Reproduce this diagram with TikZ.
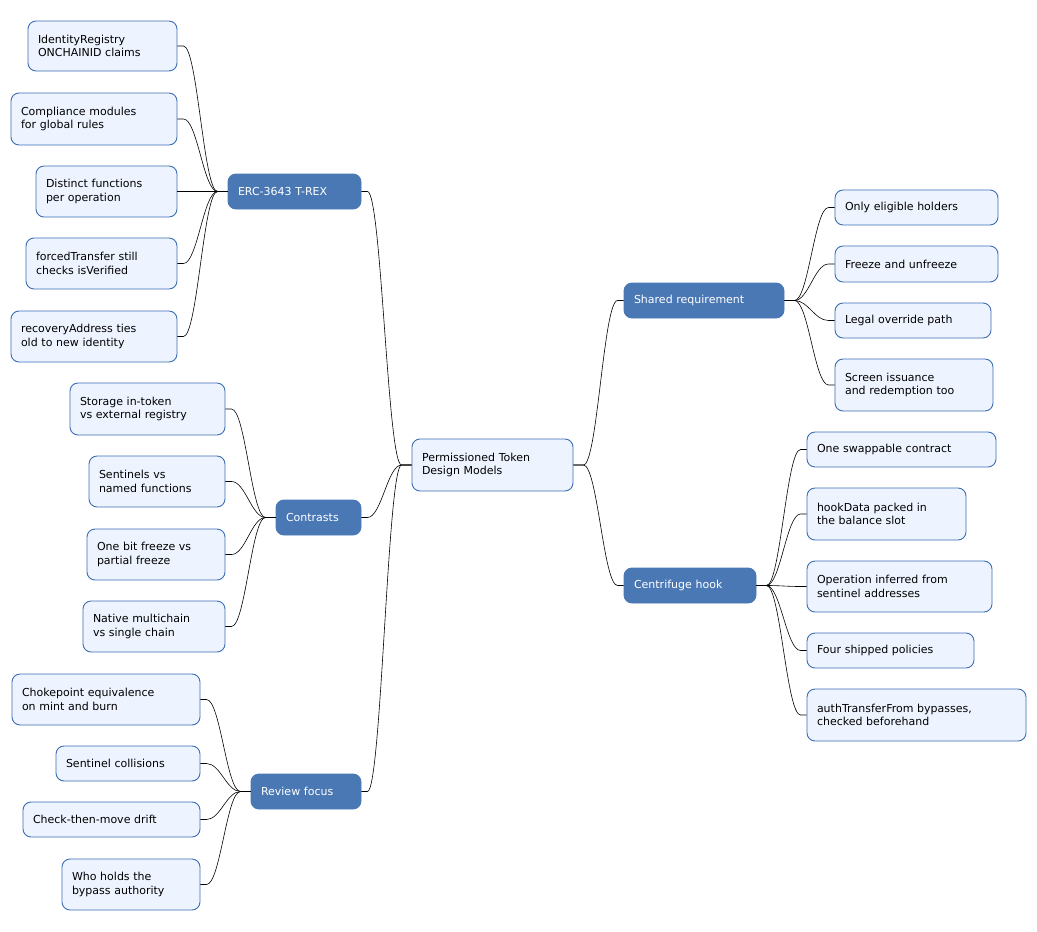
\documentclass[tikz,border=0pt]{standalone}
\usepackage{fontspec}
\setmainfont{DejaVu Sans}
\begin{document}
\begin{tikzpicture}[x=1pt,y=-1pt,
  box/.style={draw=blue!50!black!70!cyan!60, line width=0.9pt, rounded corners=8pt, font=\fontsize{11}{13.5}\selectfont, align=left, inner sep=0pt},
  leaf/.style={box, fill=lf, draw=bd, text=black},
  main/.style={box, fill=mn, draw=mn, text=white},
  con/.style={draw=black, line width=0.6pt}]
\definecolor{lf}{HTML}{EEF4FF}
\definecolor{bd}{HTML}{3C6EB4}
\definecolor{mn}{HTML}{4A78B4}
\useasboundingbox (0,0) rectangle (1037,932);
% \nd{style}{name}{l}{t}{r}{b}{text}
\newcommand\nd[7]{\node[#1, minimum width={#5-#3}, minimum height={#6-#4}, text width={#5-#3-20}] (#2) at ({(#3+#5)/2},{(#4+#6)/2}) {#7};}
\nd{leaf}{root}{412}{439}{573}{491}{Permissioned Token\\Design Models}
\nd{main}{sh}{624}{283}{784}{318}{Shared requirement}
\nd{main}{cf}{624}{568}{756}{603}{Centrifuge hook}
\nd{main}{erc}{228}{174}{361}{209}{ERC-3643 T-REX}
\nd{main}{ct}{276}{500}{361}{535}{Contrasts}
\nd{main}{rv}{251}{774}{361}{809}{Review focus}
\nd{leaf}{s1}{835}{190}{998}{225}{Only eligible holders}
\nd{leaf}{s2}{835}{246}{998}{282}{Freeze and unfreeze}
\nd{leaf}{s3}{835}{303}{991}{338}{Legal override path}
\nd{leaf}{s4}{835}{359}{993}{411}{Screen issuance\\and redemption too}
\nd{leaf}{c1}{807}{432}{996}{467}{One swappable contract}
\nd{leaf}{c2}{807}{488}{966}{540}{hookData packed in\\the balance slot}
\nd{leaf}{c3}{807}{561}{992}{612}{Operation inferred from\\sentinel addresses}
\nd{leaf}{c4}{807}{633}{974}{668}{Four shipped policies}
\nd{leaf}{c5}{807}{689}{1026}{741}{authTransferFrom bypasses,\\checked beforehand}
\nd{leaf}{e1}{28}{21}{177}{71}{IdentityRegistry\\ONCHAINID claims}
\nd{leaf}{e2}{11}{93}{177}{145}{Compliance modules\\for global rules}
\nd{leaf}{e3}{36}{166}{177}{217}{Distinct functions\\per operation}
\nd{leaf}{e4}{26}{238}{177}{289}{forcedTransfer still\\checks isVerified}
\nd{leaf}{e5}{11}{311}{177}{362}{recoveryAddress ties\\old to new identity}
\nd{leaf}{t1}{70}{383}{225}{435}{Storage in-token\\vs external registry}
\nd{leaf}{t2}{89}{456}{225}{507}{Sentinels vs\\named functions}
\nd{leaf}{t3}{87}{529}{225}{580}{One bit freeze vs\\partial freeze}
\nd{leaf}{t4}{83}{601}{225}{652}{Native multichain\\vs single chain}
\nd{leaf}{r1}{12}{674}{200}{725}{Chokepoint equivalence\\on mint and burn}
\nd{leaf}{r2}{56}{746}{200}{781}{Sentinel collisions}
\nd{leaf}{r3}{23}{802}{200}{837}{Check-then-move drift}
\nd{leaf}{r4}{62}{859}{200}{910}{Who holds the\\bypass authority}
\newcommand\rc[2]{\draw[con] (#1.east) -- ++(10,0) .. controls +(14,0) and +(-14,0) .. ([xshift=-6pt]#2.west) -- (#2.west);}
\newcommand\lc[2]{\draw[con] (#1.west) -- ++(-10,0) .. controls +(-14,0) and +(14,0) .. ([xshift=6pt]#2.east) -- (#2.east);}
\rc{root}{sh}\rc{root}{cf}
\rc{sh}{s1}\rc{sh}{s2}\rc{sh}{s3}\rc{sh}{s4}
\rc{cf}{c1}\rc{cf}{c2}\rc{cf}{c3}\rc{cf}{c4}\rc{cf}{c5}
\lc{root}{erc}\lc{root}{ct}\lc{root}{rv}
\lc{erc}{e1}\lc{erc}{e2}\lc{erc}{e3}\lc{erc}{e4}\lc{erc}{e5}
\lc{ct}{t1}\lc{ct}{t2}\lc{ct}{t3}\lc{ct}{t4}
\lc{rv}{r1}\lc{rv}{r2}\lc{rv}{r3}\lc{rv}{r4}
\end{tikzpicture}
\end{document}
